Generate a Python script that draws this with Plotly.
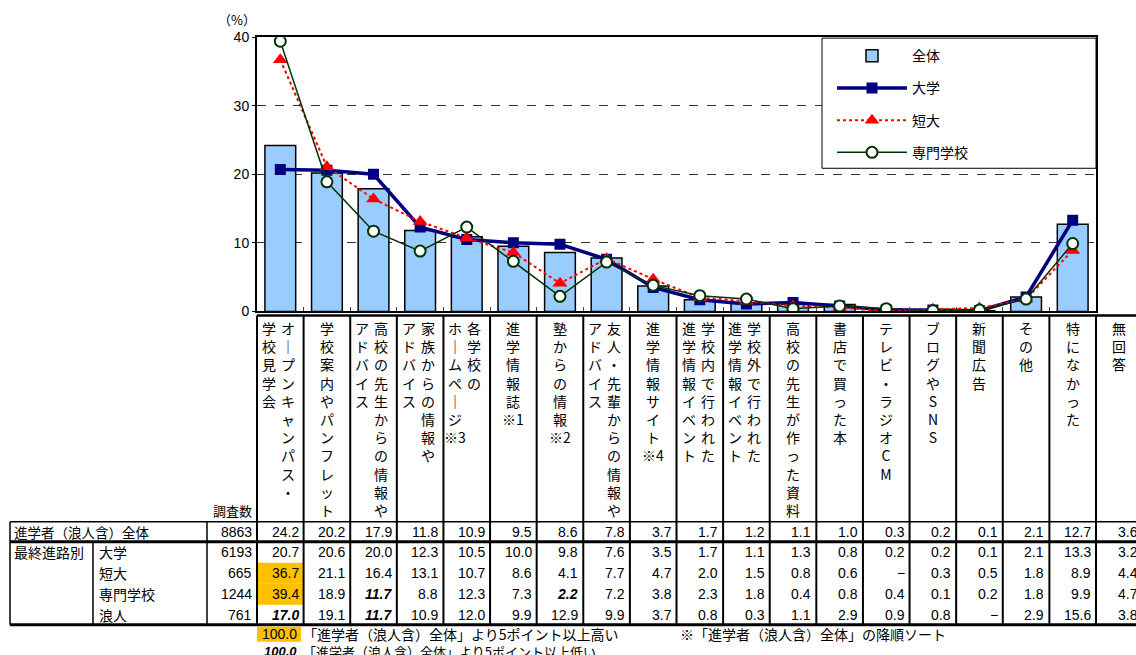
import plotly.graph_objects as go

W, H = 1136, 655
# observed vertical placement of the rendered page (offset / scale of the screenshot)
Y0, YS = 7.9, 0.9745

# ---------------- data ----------------
label_columns = [
    ["オ｜プンキャンパス・", "学校見学会"],
    ["学校案内やパンフレット"],
    ["高校の先生からの情報や", "アドバイス"],
    ["家族からの情報や", "アドバイス"],
    ["各学校の", "ホ｜ムペ｜ジ※3"],
    ["進学情報誌※1"],
    ["塾からの情報※2"],
    ["友人・先輩からの情報や", "アドバイス"],
    ["進学情報サイト※4"],
    ["学校内で行われた", "進学情報イベント"],
    ["学校外で行われた", "進学情報イベント"],
    ["高校の先生が作った資料"],
    ["書店で買った本"],
    ["テレビ・ラジオCM"],
    ["ブログやSNS"],
    ["新聞広告"],
    ["その他"],
    ["特になかった"],
    ["無回答"],
]
categories = ["".join(c) for c in label_columns]
n_chart = 18  # 無回答 is only in the table

row_labels = ["進学者（浪人含）全体", "大学", "短大", "専門学校", "浪人"]
sample_sizes = [8863, 6193, 665, 1244, 761]

total = [24.2, 20.2, 17.9, 11.8, 10.9, 9.5, 8.6, 7.8, 3.7, 1.7, 1.2, 1.1, 1.0, 0.3, 0.2, 0.1, 2.1, 12.7, 3.6]
univ = [20.7, 20.6, 20.0, 12.3, 10.5, 10.0, 9.8, 7.6, 3.5, 1.7, 1.1, 1.3, 0.8, 0.2, 0.2, 0.1, 2.1, 13.3, 3.2]
junior = [36.7, 21.1, 16.4, 13.1, 10.7, 8.6, 4.1, 7.7, 4.7, 2.0, 1.5, 0.8, 0.6, None, 0.3, 0.5, 1.8, 8.9, 4.4]
vocational = [39.4, 18.9, 11.7, 8.8, 12.3, 7.3, 2.2, 7.2, 3.8, 2.3, 1.8, 0.4, 0.8, 0.4, 0.1, 0.2, 1.8, 9.9, 4.7]
ronin = [17.0, 19.1, 11.7, 10.9, 12.0, 9.9, 12.9, 9.9, 3.7, 0.8, 0.3, 1.1, 2.9, 0.9, 0.8, None, 2.9, 15.6, 3.8]
table_rows = [total, univ, junior, vocational, ronin]

y_ticks = [0, 10, 20, 30, 40]

# ---------------- layout geometry (window pixels) ----------------
PL, PR, PT, PB = 257, 1096, 37, 311
colw = (PR - PL) / n_chart

def px(x):
    return x / W

def py(y):
    return 1 - ((y - Y0) / YS) / H

JP = "Noto Sans CJK JP, Noto Sans, sans-serif"
NUM = "Liberation Sans Narrow, Arial Narrow, Liberation Sans, Arial, sans-serif"

def z(v):
    return 0 if v is None else v

fig = go.Figure()
xc = categories[:n_chart]
fig.add_trace(go.Bar(
    x=xc, y=total[:n_chart], name="全体", width=0.66,
    marker=dict(color="#99CCFF", line=dict(color="black", width=1.5)),
    legendgroup="a"))
fig.add_trace(go.Scatter(
    x=xc, y=[z(v) for v in univ[:n_chart]], name="大学", mode="lines+markers",
    line=dict(color="#000080", width=3.5),
    marker=dict(symbol="square", size=11, color="#000080"),
    legendgroup="b"))
fig.add_trace(go.Scatter(
    x=xc, y=[z(v) for v in junior[:n_chart]], name="短大", mode="lines+markers",
    line=dict(color="#FF0000", width=2, dash="dot"),
    marker=dict(symbol="triangle-up", size=13, color="#FF0000"),
    legendgroup="c"))
fig.add_trace(go.Scatter(
    x=xc, y=[z(v) for v in vocational[:n_chart]], name="専門学校", mode="lines+markers",
    line=dict(color="#003300", width=1.5),
    marker=dict(symbol="circle", size=11, color="white", line=dict(color="#003300", width=2)),
    legendgroup="d"))

shapes = []
ann = []

def text(x, y, t, xanchor="center", yanchor="middle", family=JP, size=14, align="center"):
    ann.append(dict(xref="paper", yref="paper", x=px(x), y=py(y), text=t, showarrow=False,
                    xanchor=xanchor, yanchor=yanchor, align=align,
                    font=dict(family=family, size=size, color="black")))

# y-axis unit
text(237, 19, "（%）", size=13)

# vertical category labels
def tokens(s):
    out = []
    i = 0
    while i < len(s):
        if s[i] == "※" and i + 1 < len(s):
            out.append(s[i:i + 2]); i += 2
        else:
            out.append(s[i]); i += 1
    return out

for i, cols in enumerate(label_columns):
    left = PL + i * colw
    if len(cols) == 1:
        centers = [left + colw / 2]
    else:
        centers = [left + 31, left + 12]
    for c, s in zip(centers, cols):
        text(c, 316, "<br>".join(tokens(s)), yanchor="top")

# table lines
def hline(y, x0, x1, w):
    shapes.append(dict(type="line", xref="paper", yref="paper", x0=px(x0), x1=px(x1),
                       y0=py(y), y1=py(y), line=dict(color="black", width=w)))

def vline(x, y0, y1, w):
    shapes.append(dict(type="line", xref="paper", yref="paper", x0=px(x), x1=px(x),
                       y0=py(y0), y1=py(y1), line=dict(color="black", width=w)))

# orange highlight cells (>= 5 points above total)
row_y = [531, 551, 572, 593, 614]
row_top = [521, 541, 562, 583, 604, 624]
for r in range(1, 5):
    for i in range(len(total)):
        v = table_rows[r][i]
        if v is not None and v - total[i] >= 5:
            shapes.append(dict(type="rect", xref="paper", yref="paper",
                               x0=px(PL + i * colw), x1=px(PL + (i + 1) * colw),
                               y0=py(row_top[r]), y1=py(row_top[r + 1]),
                               fillcolor="#FFC000", line=dict(width=0), layer="below"))

hline(315, PL, W + 10, 2.5)
hline(521, 10, W + 10, 1.5)
hline(541, 10, W + 10, 3)
hline(624, 10, W + 10, 3)
for k in range(len(total) + 1):
    vline(PL + k * colw, 315, 624, 2)
vline(10, 521, 624, 1.5)
vline(207, 521, 624, 1.5)
vline(93, 541, 624, 1.5)

text(254, 510, "調査数", xanchor="right", size=13)
text(12, row_y[0], row_labels[0], xanchor="left", size=13.5)
text(12, row_y[1], "最終進路別", xanchor="left")
for r in range(1, 5):
    text(97, row_y[r], row_labels[r], xanchor="left")
for r in range(5):
    text(254, row_y[r], str(sample_sizes[r]), xanchor="right", family=NUM)
    for i, v in enumerate(table_rows[r]):
        if v is None:
            t = "−"
        else:
            t = f"{v:.1f}"
            if r > 0 and total[i] - v >= 5:
                t = f"<b><i>{t}</i></b>"
        text(PL + (i + 1) * colw - 3, row_y[r], t, xanchor="right", family=NUM)

# footnotes
shapes.append(dict(type="rect", xref="paper", yref="paper", x0=px(257), x1=px(301), y0=py(626), y1=py(641),
                   fillcolor="#FFC000", line=dict(width=0)))
text(299, 633, "100.0", xanchor="right", family=NUM)
text(301, 633, "「進学者（浪人含）全体」より5ポイント以上高い", xanchor="left")
text(678, 633, "※「進学者（浪人含）全体」の降順ソート", xanchor="left")
text(299, 651, "<b><i>100.0</i></b>", xanchor="right", family=NUM, size=13)
text(301, 651, "「進学者（浪人含）全体」より5ポイント以上低い", xanchor="left", size=13)

# legend frame
shapes.append(dict(type="rect", xref="paper", yref="paper", x0=px(822), x1=px(1096), y0=py(168), y1=py(38),
                   fillcolor="white", line=dict(color="black", width=1), layer="above"))

fig.update_layout(
    width=W, height=H,
    margin=dict(l=0, r=0, t=0, b=0),
    paper_bgcolor="white", plot_bgcolor="white",
    xaxis=dict(domain=[px(PL), px(PR)], range=[-0.5, n_chart - 0.5], type="category",
               showticklabels=False, showline=True, linecolor="black", linewidth=2, mirror=True,
               ticks="inside", tickson="boundaries", ticklen=4, tickcolor="#444", showgrid=False),
    yaxis=dict(domain=[py(PB), py(PT)], range=[0, 40], tickvals=y_ticks,
               showline=True, linecolor="black", linewidth=2, mirror=True,
               ticks="outside", ticklen=3, tickcolor="black",
               showgrid=True, gridcolor="#333", griddash="dash", gridwidth=1, zeroline=False,
               tickfont=dict(family="Liberation Sans, Arial, sans-serif", size=14, color="black")),
    legend=dict(x=px(832), y=py(40), xanchor="left", yanchor="top", bgcolor="rgba(0,0,0,0)",
                borderwidth=0, itemwidth=70, tracegroupgap=11,
                traceorder="grouped",
                font=dict(family=JP, size=14, color="black")),
    showlegend=True,
    shapes=shapes, annotations=ann,
)

fig.write_html("out.html", config={"displayModeBar": False},
               post_script="document.body.style.margin='0';document.body.style.overflow='hidden';")
